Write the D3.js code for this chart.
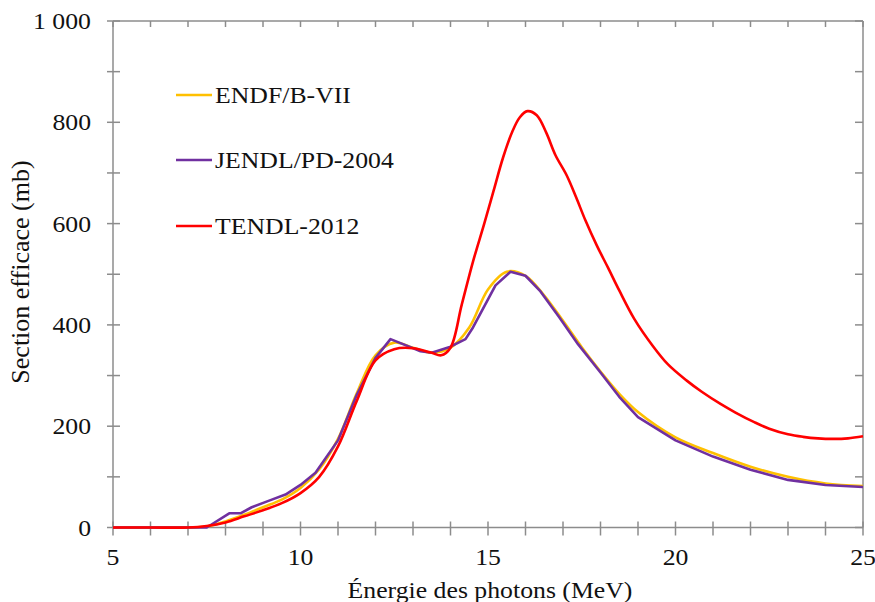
<!DOCTYPE html>
<html>
  <head>
    <script src="https://d3js.org/d3.v7.min.js" charset="utf-8"></script>
    <style type="text/css">
    body { margin: 0; background: #fff; }
    text { font-family: "Liberation Serif", "Times New Roman", serif; fill: #111; }
    </style>
  </head>
  <body>
  <script type="text/javascript">
  // tick labels
  var xTicks = [5, 10, 15, 20, 25];
  var yTicks = [0, 200, 400, 600, 800, 1000];
  var yTickLabels = ["0", "200", "400", "600", "800", "1 000"];

  // ENDF/B-VII
  var endfE = [5, 6, 7, 7.5, 8, 8.5, 9, 9.5, 10, 10.5, 11, 11.5, 12, 12.5, 13, 13.5, 14, 14.5, 15, 15.5, 16, 16.5, 17, 17.5, 18, 18.5, 19, 20, 21, 22, 23, 24, 25];
  var endfV = [0, 0, 0, 2, 12, 25, 40, 55, 78, 115, 175, 265, 340, 365, 355, 345, 355, 395, 470, 505, 497, 458, 408, 356, 308, 264, 228, 178, 147, 120, 100, 87, 82];

  // JENDL/PD-2004
  var jendlE = [5, 6, 7, 7.5, 8.1, 8.4, 8.7, 9.2, 9.6, 10, 10.4, 11, 11.5, 12, 12.4, 12.8, 13.2, 13.5, 14, 14.4, 14.6, 15.2, 15.6, 16, 16.4, 16.9, 17.4, 18, 18.5, 19, 20, 21, 22, 23, 24, 25];
  var jendlV = [0, 0, 0, 0, 28, 28, 40, 54, 65, 84, 108, 172, 262, 335, 372, 360, 348, 345, 357, 372, 395, 478, 505, 497, 466, 415, 362, 306, 258, 218, 172, 140, 114, 94, 84, 80];

  // TENDL-2012
  var tendlE = [5, 6, 7, 7.5, 8, 8.5, 9, 9.5, 10, 10.5, 11, 11.5, 12, 12.5, 13, 13.5, 13.75, 14, 14.3, 14.6, 14.9, 15.15, 15.4, 15.65, 15.85, 16.05, 16.3, 16.55, 16.8, 17.1, 17.35, 17.6, 17.9, 18.2, 18.5, 18.9, 19.4, 19.8, 20.3, 20.7, 21.2, 21.6, 22.1, 22.5, 23, 23.4, 23.8, 24.2, 24.6, 25];
  var tendlV = [0, 0, 0, 3, 10, 22, 34, 48, 68, 100, 160, 250, 330, 352, 354, 345, 340, 355, 440, 525, 600, 665, 730, 782, 810, 822, 814, 780, 735, 695, 652, 606, 557, 513, 468, 412, 358, 322, 290, 268, 244, 227, 208, 195, 184, 179, 176, 175, 176, 180];

  var seriesNames = ["ENDF/B-VII", "JENDL/PD-2004", "TENDL-2012"];
  var seriesColors = ["#FFC000", "#7030A0", "#FF0000"];

  var W = 875, H = 602;
  var mLeft = 113, mRight = 863, mTop = 21, mBottom = 527.5;
  var sx = 1.12;  // glyphs in the source are a bit wide

  var svg = d3.select("body").append("svg").attr("width", W).attr("height", H);

  var x = d3.scaleLinear().domain([5, 25]).range([mLeft, mRight]);
  var y = d3.scaleLinear().domain([0, 1000]).range([mBottom, mTop]);

  var axisCol = "#8c8c8c";
  var g = svg.append("g").attr("stroke", axisCol).attr("stroke-width", 1.5);

  // frame
  g.append("line").attr("x1", mLeft).attr("x2", mLeft).attr("y1", mTop).attr("y2", mBottom);
  g.append("line").attr("x1", mRight).attr("x2", mRight).attr("y1", mTop).attr("y2", mBottom);
  g.append("line").attr("x1", mLeft).attr("x2", mRight).attr("y1", mTop).attr("y2", mTop);
  g.append("line").attr("x1", mLeft).attr("x2", mRight).attr("y1", mBottom).attr("y2", mBottom);

  // ticks every 1 MeV and every 100 mb
  var xMinor = d3.range(5, 25.01, 1), yMinor = d3.range(0, 1000.1, 100);
  g.selectAll(".xb").data(xMinor).enter().append("line")
    .attr("x1", x).attr("x2", x).attr("y1", mBottom - 6).attr("y2", mBottom + 8);
  g.selectAll(".xt").data(xMinor).enter().append("line")
    .attr("x1", x).attr("x2", x).attr("y1", mTop).attr("y2", mTop + 6);
  g.selectAll(".yl").data(yMinor).enter().append("line")
    .attr("x1", mLeft - 6).attr("x2", mLeft + 7).attr("y1", y).attr("y2", y);
  g.selectAll(".yr").data(yMinor).enter().append("line")
    .attr("x1", mRight - 8).attr("x2", mRight).attr("y1", y).attr("y2", y);

  function label(px, py, txt, anchor, size) {
    svg.append("g").attr("transform", "translate(" + px + "," + py + ") scale(" + sx + ",1)")
      .append("text").attr("text-anchor", anchor).attr("font-size", size).text(txt);
  }

  xTicks.forEach(function(d) { label(x(d), 565, d, "middle", "23px"); });
  yTicks.forEach(function(d, i) { label(91, y(d) + 8, yTickLabels[i], "end", "23px"); });

  label(490, 598, "Énergie  des photons (MeV)", "middle", "23px");
  svg.append("text").attr("transform", "translate(29,272) rotate(-90)")
    .attr("text-anchor", "middle").attr("font-size", "26px").text("Section efficace (mb)");

  // curves
  var series = [
    { e: endfE, v: endfV, curve: d3.curveCatmullRom.alpha(0.5) },
    { e: jendlE, v: jendlV, curve: d3.curveLinear },
    { e: tendlE, v: tendlV, curve: d3.curveCatmullRom.alpha(0.5) }
  ];
  series.forEach(function(s, i) {
    var line = d3.line().x(function(d) { return x(d[0]); }).y(function(d) { return y(d[1]); }).curve(s.curve);
    svg.append("path").datum(d3.zip(s.e, s.v))
      .attr("d", line).attr("fill", "none")
      .attr("stroke", seriesColors[i]).attr("stroke-width", 2.6)
      .attr("stroke-linejoin", "round");
  });

  // legend
  var legY = [95, 160, 226];
  seriesNames.forEach(function(n, i) {
    svg.append("line").attr("x1", 176).attr("x2", 212).attr("y1", legY[i]).attr("y2", legY[i])
      .attr("stroke", seriesColors[i]).attr("stroke-width", 2.6);
    label(215, legY[i] + 8, n, "start", "23px");
  });
  </script>
  </body>
</html>
